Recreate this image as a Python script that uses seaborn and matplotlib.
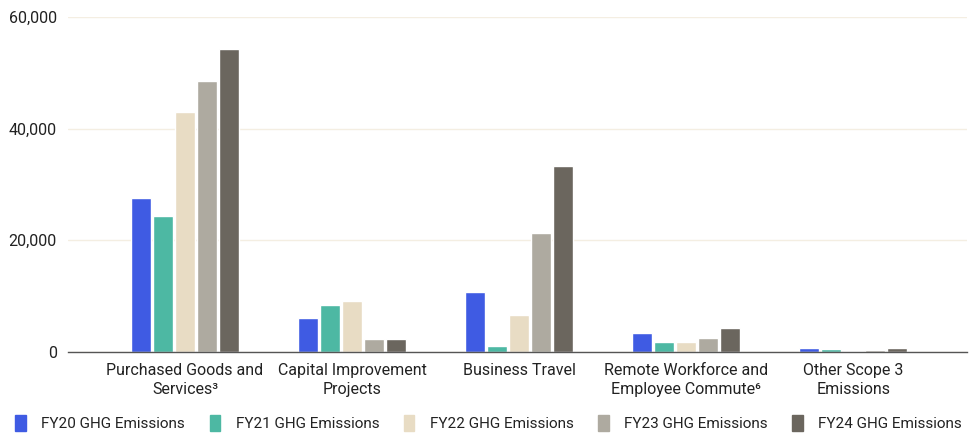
import matplotlib
matplotlib.use('Agg')
import matplotlib.pyplot as plt
import seaborn as sns
import pandas as pd
from matplotlib.patches import Patch

categories = ["Purchased Goods and\nServices³", "Capital Improvement\nProjects", "Business Travel",
              "Remote Workforce and\nEmployee Commute⁶", "Other Scope 3\nEmissions"]
series = ["FY20 GHG Emissions", "FY21 GHG Emissions", "FY22 GHG Emissions",
          "FY23 GHG Emissions", "FY24 GHG Emissions"]
fy20 = [27600, 6100, 10700, 3400, 700]
fy21 = [24400, 8400, 1100, 1800, 500]
fy22 = [43000, 9100, 6600, 1800, 200]
fy23 = [48500, 2300, 21300, 2500, 300]
fy24 = [54300, 2300, 33300, 4300, 700]
colors = ["#3F5BE3", "#4DB8A3", "#E8DCC4", "#AEAAA0", "#6B665E"]

rows = []
for s, vals in zip(series, [fy20, fy21, fy22, fy23, fy24]):
    for c, v in zip(categories, vals):
        rows.append({"cat": c, "series": s, "value": v})
df = pd.DataFrame(rows)

sns.set_style("white")
plt.rcParams['font.family'] = ['Roboto', 'DejaVu Sans']

fig = plt.figure(figsize=(9.77, 4.34), dpi=100)
ax = fig.add_axes([0.0696, 0.189, 0.92, 0.772])
sns.barplot(data=df, x="cat", y="value", hue="series", palette=colors,
            width=0.66, gap=0.08, ax=ax, legend=False, saturation=1)

ax.set_ylim(0, 60000)
ax.set_xlim(-0.70, 4.68)
ax.set_yticks([0, 20000, 40000, 60000])
ax.set_yticklabels(["0", "20,000", "40,000", "60,000"])
ax.yaxis.grid(True, color="#F4EEE2", linewidth=1)
ax.set_axisbelow(True)
for sp in ["top", "right", "left"]:
    ax.spines[sp].set_visible(False)
ax.spines["bottom"].set_color("#555555")
ax.spines["bottom"].set_linewidth(1)
ax.tick_params(axis="both", length=0, labelsize=11.5, colors="#222222")
ax.tick_params(axis="y", pad=8)
ax.tick_params(axis="x", pad=8)
for lbl in ax.get_xticklabels():
    lbl.set_linespacing(1.3)
ax.set_xlabel("")
ax.set_ylabel("")

handles = [Patch(facecolor=c, edgecolor=c) for c in colors]
fig.legend(handles, series, loc="center", bbox_to_anchor=(0.5, 1 - 423 / 434), ncol=5,
           frameon=False, fontsize=11, handlelength=0.7, handleheight=1.2,
           columnspacing=1.6, handletextpad=1.0, labelcolor="#222222",
           borderaxespad=0, borderpad=0)

fig.savefig("out.png", dpi=100)
